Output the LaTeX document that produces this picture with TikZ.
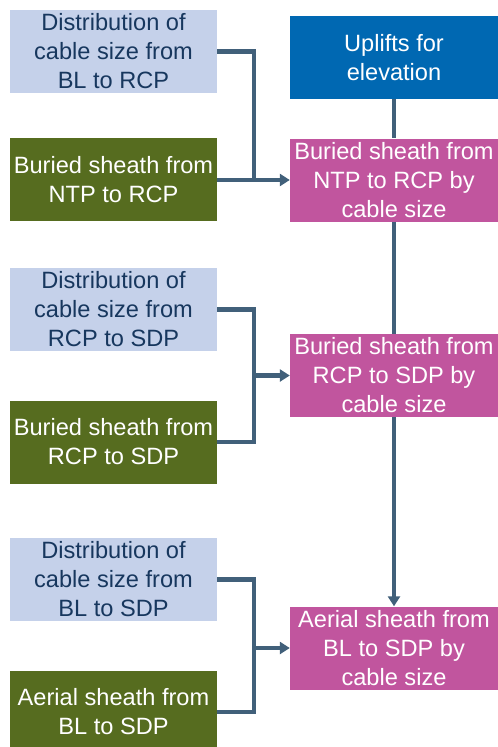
\documentclass[tikz,border=0pt]{standalone}
\usepackage{fontspec}
\setmainfont{Liberation Sans}
\usetikzlibrary{arrows.meta}
\definecolor{lblue}{HTML}{C5D1EA}
\definecolor{dtext}{HTML}{17375E}
\definecolor{dgreen}{HTML}{566C1F}
\definecolor{mblue}{HTML}{0068B2}
\definecolor{mpink}{HTML}{C1559E}
\definecolor{conn}{HTML}{41607A}
\tikzset{
  box/.style={minimum width=207pt, minimum height=83pt, inner sep=0pt, align=center,
    font=\fontsize{23.6}{29}\selectfont},
  distbox/.style={box, fill=lblue, text=dtext},
  greenbox/.style={box, fill=dgreen, text=white},
  bluebox/.style={box, minimum width=208pt, fill=mblue, text=white},
  pinkbox/.style={box, minimum width=208pt, fill=mpink, text=white},
  link/.style={draw=conn, line width=4.5pt},
  arrowlink/.style={link, -{Triangle[width=12pt,length=10pt]}}
}
\begin{document}
\begin{tikzpicture}[x=1pt,y=1pt]
\useasboundingbox (0,0) rectangle (498,-747);
\begin{scope}
\clip (0,0) rectangle (498,-747);
\node[distbox] (b1) at (113.5,-51.5) {Distribution of\\cable size from\\BL to RCP};
\node[greenbox] (b2) at (113.5,-179.5) {Buried sheath from\\NTP to RCP};
\node[distbox] (b3) at (113.5,-309.5) {Distribution of\\cable size from\\RCP to SDP};
\node[greenbox] (b4) at (113.5,-442) {Buried sheath from\\RCP to SDP};
\node[distbox] (b5) at (113.5,-579.5) {Distribution of\\cable size from\\BL to SDP};
\node[greenbox] (b6) at (113.5,-712) {Aerial sheath from\\BL to SDP};
\node[bluebox] (up) at (394,-57.5) {Uplifts for\\elevation};
\node[pinkbox] (p1) at (394,-180) {Buried sheath from\\NTP to RCP by\\cable size};
\node[pinkbox] (p2) at (394,-375.5) {Buried sheath from\\RCP to SDP by\\cable size};
\node[pinkbox] (p3) at (394,-648) {Aerial sheath from\\BL to SDP by\\cable size};
\end{scope}
\coordinate (j1) at (254,-180);
\coordinate (j2) at (254,-375.5);
\coordinate (j3) at (254,-648);
\draw[link] (b1.east) -| (j1);
\draw[arrowlink] (b2.east |- j1) -- (p1.west);
\draw[link] (b3.east) -| (j2);
\draw[link] (b4.east) -| (j2);
\draw[arrowlink] (j2) -- (p2.west);
\draw[link] (b5.east) -| (j3);
\draw[link] (b6.east) -| (j3);
\draw[arrowlink] (j3) -- (p3.west);
\draw[link] (up.south) -- (p1.north);
\draw[link] (p1.south) -- (p2.north);
\draw[arrowlink] (p2.south) -- (p3.north);
\end{tikzpicture}
\end{document}
